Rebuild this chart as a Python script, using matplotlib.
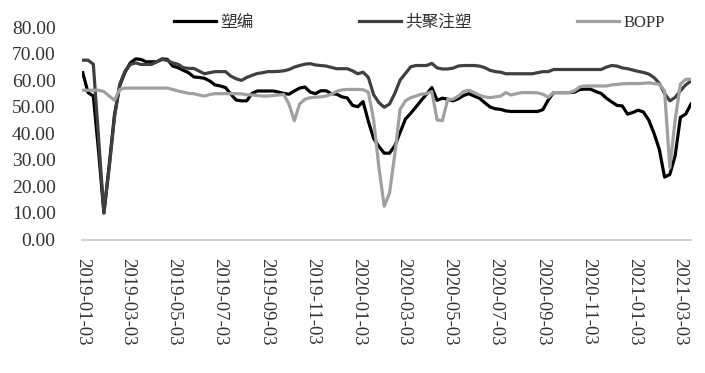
import matplotlib
matplotlib.use("Agg")
import matplotlib.pyplot as plt
import pandas as pd

start_date = "2019-01-03"

suobian = [62.8, 55.3, 54, 33, 10, 28, 47, 58, 63, 66.5,
           68, 67.8, 66.9, 66.9, 66.9, 68, 67.8, 65.3, 64.7, 63.7,
           62.8, 61.2, 61, 60.7, 59.7, 58.2, 57.8, 57.2, 54.7, 52.5,
           52.2, 52.2, 55, 55.9, 55.9, 55.9, 55.9, 55.5, 55, 54.7,
           55.9, 57, 57.4, 55.5, 54.9, 56, 56, 54.9, 54.7, 53.7,
           53.3, 50.5, 50, 51.9, 44.5, 38, 35, 32.5, 32.5, 35.3,
           40.3, 45.3, 47.5, 49.9, 52.4, 54.7, 57.2, 52.4, 53.2, 52.8,
           52.2, 53, 54.2, 54.9, 54, 53.2, 51.5, 49.9, 49.2, 49,
           48.4, 48.2, 48.2, 48.2, 48.2, 48.2, 48.2, 48.9, 52.5, 55.3,
           55.3, 55.3, 55.3, 55.5, 56.5, 56.6, 56.6, 55.7, 55, 53.2,
           51.8, 50.5, 50.3, 47.2, 47.8, 48.7, 48, 45, 40, 34,
           23.5, 24.5, 31.5, 46, 47.2, 51]

gongju = [67.5, 67.5, 66, 38, 10, 27, 46, 58.5, 63.4, 65.9,
          66.5, 65.9, 65.9, 65.9, 66.9, 67.8, 67.4, 66.5, 66, 64.7,
          64.4, 64.4, 63.4, 62.4, 62.8, 63.2, 63.2, 63.2, 61.5, 60.5,
          59.9, 61, 61.8, 62.5, 62.8, 63.2, 63.2, 63.3, 63.5, 64,
          64.9, 65.5, 66, 66.2, 65.7, 65.5, 65.3, 64.8, 64.3, 64.3,
          64.3, 63.5, 62.4, 63, 61, 54.5, 51.5, 49.8, 51, 55,
          60, 62.5, 65, 65.5, 65.5, 65.5, 66.3, 64.6, 64.2, 64.2,
          64.5, 65.3, 65.5, 65.5, 65.5, 65.3, 64.7, 63.7, 63.2, 63,
          62.4, 62.4, 62.4, 62.4, 62.4, 62.4, 62.8, 63.2, 63.2, 64,
          64, 64, 64, 64, 64, 64, 64, 64, 64, 64.9,
          65.5, 65.3, 64.6, 64.3, 63.8, 63.3, 62.9, 62.3, 61, 58.8,
          55, 52.2, 53.5, 56, 58.2, 59.7]

bopp = [56.2, 56.2, 56.2, 56.2, 55.7, 54, 52.4, 56.5, 57, 57,
        57, 57, 57, 57, 57, 57, 57, 56.5, 55.9, 55.5,
        55, 54.9, 54.4, 54, 54.6, 54.9, 54.9, 54.9, 54.9, 54.9,
        54.8, 54.5, 54.4, 54.2, 54, 54, 54.2, 54.4, 54.6, 50.9,
        44.7, 51, 52.8, 53.4, 53.6, 53.7, 54, 54.7, 55.8, 56.3,
        56.5, 56.5, 56.5, 56.4, 55.5, 45, 27, 12.5, 17.5, 32.1,
        49, 52.2, 53.4, 54, 54.7, 54.9, 55.7, 45, 44.7, 52.8,
        52.8, 54, 55.7, 56.2, 55.3, 54.3, 53.7, 53.4, 53.7, 54,
        55.3, 54.4, 54.9, 55.3, 55.3, 55.3, 55.2, 54.7, 53.5, 55.3,
        55.3, 55.3, 55.3, 56, 57.5, 57.8, 57.8, 57.8, 57.8, 57.8,
        58.2, 58.4, 58.6, 58.7, 58.7, 58.7, 58.8, 59, 58.7, 58.5,
        56, 27, 45, 58.5, 60.3, 60.3]

series_names = ["塑编", "共聚注塑", "BOPP"]
series_colors = ["#000000", "#404040", "#a0a0a0"]

tick_labels = ["2019-01-03", "2019-03-03", "2019-05-03", "2019-07-03",
               "2019-09-03", "2019-11-03", "2020-01-03", "2020-03-03",
               "2020-05-03", "2020-07-03", "2020-09-03", "2020-11-03",
               "2021-01-03", "2021-03-03"]
ytick_values = [0, 10, 20, 30, 40, 50, 60, 70, 80]

n = len(suobian)
dates = pd.date_range(start_date, periods=n, freq="7D")

num_font = ["Liberation Serif", "Noto Sans CJK SC"]

fig = plt.figure(figsize=(7.05, 3.73), dpi=100)
ax = fig.add_axes([82/705, 1 - 239.5/373, (691 - 82)/705, (239.5 - 27)/373])

for vals, name, col in zip([suobian, gongju, bopp], series_names, series_colors):
    ax.plot(dates, vals, color=col, lw=2.3, label=name, solid_joinstyle="round")

ax.set_xlim(dates[0] - pd.Timedelta(days=1), dates[-1])
ax.set_ylim(0, 80)

ax.set_yticks(ytick_values)
ax.set_yticklabels([f"{v:.2f}" for v in ytick_values], family=num_font, fontsize=14, color="#333333")
tick_dates = pd.to_datetime(tick_labels)
ax.set_xticks(tick_dates)
ax.set_xticklabels(tick_labels, rotation=-90, family=num_font, fontsize=13.5,
                   color="#333333", va="top", ha="center")

ax.tick_params(axis="x", length=0, pad=13)
ax.tick_params(axis="y", length=0, pad=19)
for s in ["top", "right", "left"]:
    ax.spines[s].set_visible(False)
ax.spines["bottom"].set_color("#c8c8c8")
ax.spines["bottom"].set_linewidth(1.2)

leg = fig.legend(loc="center", bbox_to_anchor=(419.5/705, 1 - 23/373), ncol=3,
                 frameon=False, handlelength=2.5, handletextpad=0.3,
                 columnspacing=6.3, borderpad=0, borderaxespad=0,
                 prop={"family": num_font, "size": 12})
for t in leg.get_texts():
    t.set_color("#333333")

fig.savefig("out.png", dpi=100)
